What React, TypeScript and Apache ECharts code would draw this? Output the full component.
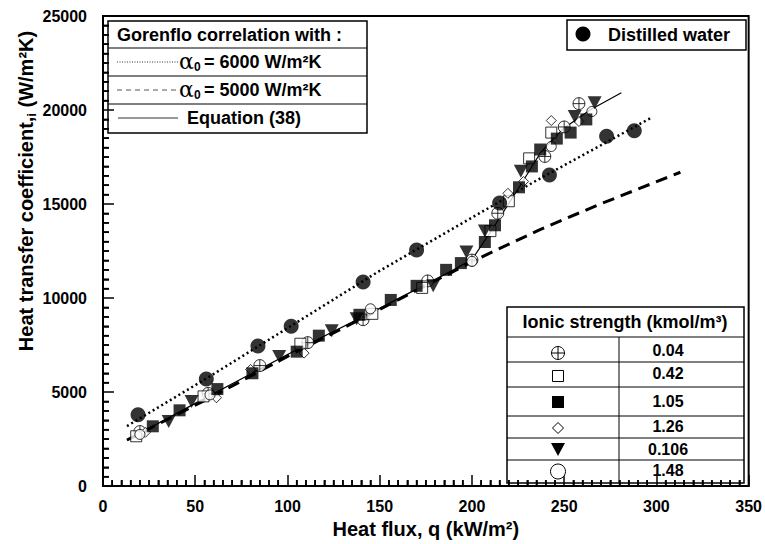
import React, { useEffect, useRef } from 'react';
import * as echarts from 'echarts';

const FONT = 'Liberation Sans, Arial, sans-serif';

// Distilled water
const distilledQ = [19, 56, 84, 102, 141, 170, 215, 242, 273, 288];
const distilledH = [3800, 5700, 7450, 8500, 10850, 12550, 15050, 16550, 18600, 18900];

// Gorenflo correlation alpha0 = 6000
const g6000Q = [13, 56, 100, 149, 234, 297];
const g6000H = [3190, 5720, 8400, 11390, 16200, 19580];

// Gorenflo correlation alpha0 = 5000
const g5000Q = [13, 60, 100, 150, 203, 236, 268, 313];
const g5000H = [2450, 4800, 6900, 9400, 12080, 13600, 14940, 16690];

// Equation (38)
const eq38Q = [13, 50, 100, 150, 190, 200, 210, 225, 237, 243, 250, 264, 281];
const eq38H = [2440, 4400, 7000, 9450, 11500, 12050, 13500, 15800, 17700, 18350, 19050, 20000, 20920];

// Ionic strength 0.04
const q004 = [20, 57, 85, 111, 141, 176, 200, 214, 239.5, 250, 258];
const h004 = [2900, 4930, 6410, 7630, 8850, 10910, 12020, 14510, 17530, 19100, 20340];
// 0.42
const q042 = [18, 54.5, 107, 146, 173, 210, 220, 231, 243];
const h042 = [2650, 4770, 7570, 9160, 10540, 13560, 15150, 17430, 18800];
// 1.05
const q105 = [27, 41.5, 62, 81, 105, 117, 139, 156, 170, 186, 194, 207, 212.5, 225.5, 232.5, 237, 246, 253.5, 262];
const h105 = [3180, 4030, 5160, 6000, 7150, 8000, 9110, 9900, 10650, 11500, 11860, 12980, 13870, 15890, 17000, 17900, 18480, 18800, 19500];
// 1.26
const q126 = [23, 61.5, 80, 109, 219.5, 228, 243, 258];
const h126 = [2860, 4700, 6200, 7070, 15570, 16200, 19440, 19390];
// 0.106
const q0106 = [35.6, 48, 95.5, 124, 137.5, 179, 197, 207, 226.5, 255.7, 266.5];
const h0106 = [3440, 4500, 6890, 8260, 8900, 10650, 12450, 13560, 16740, 19650, 20390];
// 1.48
const q148 = [20, 58, 145, 200, 243, 265];
const h148 = [2750, 4850, 9430, 11950, 18060, 19920];

const ionicLabels = ['0.04', '0.42', '1.05', '1.26', '0.106', '1.48'];

// axis scale
const X_MIN = 0, X_MAX = 350, X_STEP = 50, X_MINOR = 5;
const Y_MIN = 0, Y_MAX = 25000, Y_STEP = 5000, Y_MINOR = 500;

const xMinorTicks: number[] = [];
for (let v = X_MIN + X_MINOR; v < X_MAX; v += X_MINOR) if (v % X_STEP !== 0) xMinorTicks.push(v);
const yMinorTicks: number[] = [];
for (let v = Y_MIN + Y_MINOR; v < Y_MAX; v += Y_MINOR) if (v % Y_STEP !== 0) yMinorTicks.push(v);

const zip = (a: number[], b: number[]) => a.map((v, i) => [v, b[i]]);

const PLUS_CIRCLE = 'path://M10,0 A10,10 0 1,1 10,20 A10,10 0 1,1 10,0 Z M0,10 L20,10 M10,0 L10,20';

export default function App() {
  const ref = useRef<HTMLDivElement>(null);
  useEffect(() => {
    const chart = echarts.init(ref.current!, null, { renderer: 'svg' });
    const open = { color: '#fff', borderColor: '#000', borderWidth: 1 };
    const filled = { color: '#000' };

    const txt = (x: number, y: number, text: string, size: number, extra: any = {}) => ({
      type: 'text', x, y, z: 100,
      style: {
        text, fontSize: size, fontWeight: 'bold', fontFamily: FONT, fill: '#000',
        align: 'left', verticalAlign: 'middle', ...extra,
      },
    });
    const ln = (x1: number, y1: number, x2: number, y2: number, extra: any = {}) => ({
      type: 'line', z: 100, shape: { x1, y1, x2, y2 },
      style: { stroke: '#000', lineWidth: 1, ...extra },
    });

    const rowYs = [350, 373, 401, 426, 449, 470];
    const graphic: any[] = [
      // Gorenflo legend box
      { type: 'rect', z: 100, shape: { x: 108, y: 21, width: 259, height: 112 }, style: { fill: 'none', stroke: '#000', lineWidth: 1.5 } },
      ln(108, 48, 367, 48), ln(108, 76, 367, 76), ln(108, 104, 367, 104),
      txt(117, 35, 'Gorenflo correlation with :', 18),
      ln(117, 62, 178, 62, { lineDash: [1, 1.5], stroke: '#333' }),
      { type: 'text', x: 179, y: 61, z: 100, style: { text: 'α', fontSize: 22, fontFamily: 'DejaVu Serif, serif', fill: '#000', align: 'left', verticalAlign: 'middle' } },
      txt(194, 67, '0', 12),
      txt(204, 62, '= 6000 W/m²K', 18),
      ln(117, 90, 178, 90, { lineDash: [5, 4], stroke: '#555' }),
      { type: 'text', x: 179, y: 89, z: 100, style: { text: 'α', fontSize: 22, fontFamily: 'DejaVu Serif, serif', fill: '#000', align: 'left', verticalAlign: 'middle' } },
      txt(194, 95, '0', 12),
      txt(204, 90, '= 5000 W/m²K', 18),
      ln(118, 118, 178, 118, { stroke: '#333' }),
      txt(187, 118, 'Equation (38)', 18),

      // Distilled water box
      { type: 'rect', z: 100, shape: { x: 567, y: 20, width: 179, height: 30 }, style: { fill: 'none', stroke: '#000', lineWidth: 1.5 } },
      { type: 'circle', z: 100, shape: { cx: 583, cy: 34, r: 7.5 }, style: { fill: '#000' } },
      txt(608, 35, 'Distilled water', 18),

      // Ionic strength table
      { type: 'rect', z: 100, shape: { x: 507, y: 307, width: 237, height: 176 }, style: { fill: 'none', stroke: '#000', lineWidth: 1.5 } },
      ln(507, 337, 744, 337), ln(507, 362, 744, 362), ln(507, 387, 744, 387),
      ln(507, 416, 744, 416), ln(507, 438, 744, 438), ln(507, 460, 744, 460),
      ln(619, 337, 619, 483),
      txt(625, 322, 'Ionic strength (kmol/m³)', 18, { align: 'center' }),
      // symbols
      { type: 'circle', z: 100, shape: { cx: 558, cy: 353, r: 6.5 }, style: { fill: '#fff', stroke: '#000', lineWidth: 1 } },
      ln(551.5, 353, 564.5, 353), ln(558, 346.5, 558, 359.5),
      { type: 'rect', z: 100, shape: { x: 552.5, y: 370.5, width: 11, height: 11 }, style: { fill: '#fff', stroke: '#000', lineWidth: 1 } },
      { type: 'rect', z: 100, shape: { x: 552, y: 396, width: 12, height: 12 }, style: { fill: '#000' } },
      { type: 'polygon', z: 100, shape: { points: [[558, 422.5], [563.5, 428], [558, 433.5], [552.5, 428]] }, style: { fill: '#fff', stroke: '#000', lineWidth: 1 } },
      { type: 'polygon', z: 100, shape: { points: [[551, 443], [565, 443], [558, 456]] }, style: { fill: '#000' } },
      { type: 'circle', z: 100, shape: { cx: 558, cy: 471.5, r: 7.5 }, style: { fill: '#fff', stroke: '#000', lineWidth: 1 } },
      ...ionicLabels.map((l, i) => txt(668, rowYs[i], l, 16, { align: 'center' })),

      // Y axis title
      {
        type: 'text', x: 26, y: 191, rotation: Math.PI / 2, z: 100,
        style: {
          text: '{a|Heat transfer coefficient,}{s|i}{a| (W/m²K)}',
          align: 'center', verticalAlign: 'middle', fill: '#000',
          rich: {
            a: { fontSize: 20, fontWeight: 'bold', fontFamily: FONT, lineHeight: 24, verticalAlign: 'middle', fill: '#000' },
            s: { fontSize: 13, fontWeight: 'bold', fontFamily: FONT, lineHeight: 12, verticalAlign: 'bottom', fill: '#000' },
          },
        },
      },
    ];

    const scatter = (name: string, data: number[][], symbol: string, size: any, itemStyle: any, extra: any = {}) => ({
      name, type: 'scatter', data, symbol, symbolSize: size, itemStyle, z: 3, ...extra,
    });

    const tickSeries = (data: number[][], dx: number, dy: number) => ({
      type: 'custom', silent: true, clip: false, z: 6,
      data,
      renderItem: (params: any, api: any) => {
        const p = api.coord([api.value(0), api.value(1)]);
        return {
          type: 'line',
          shape: { x1: p[0], y1: p[1], x2: p[0] + dx, y2: p[1] + dy },
          style: { stroke: '#000', lineWidth: 1.6 },
        };
      },
    });

    const tickStyle = { color: '#000', width: 1.5 };
    const minorStyle = { show: true, splitNumber: 10, length: 6, lineStyle: { color: '#000', width: 1.5 } };
    const option: any = {
      animation: false,
      backgroundColor: '#fff',
      grid: { left: 103, right: 15, top: 16, bottom: 56, show: true, borderColor: '#000', borderWidth: 2, backgroundColor: 'transparent' },
      xAxis: {
        type: 'value', min: X_MIN, max: X_MAX, interval: X_STEP,
        name: 'Heat flux, q (kW/m²)', nameLocation: 'middle', nameGap: 32,
        nameTextStyle: { fontSize: 20, fontWeight: 'bold', fontFamily: FONT, color: '#000' },
        axisLine: { lineStyle: { color: '#000', width: 2 } },
        axisTick: { inside: true, length: 11, lineStyle: tickStyle },
        minorTick: minorStyle,
        splitLine: { show: false },
        axisLabel: { fontSize: 16, fontWeight: 'bold', fontFamily: FONT, color: '#000', margin: 12 },
      },
      yAxis: {
        type: 'value', min: Y_MIN, max: Y_MAX, interval: Y_STEP,
        axisLine: { show: true, lineStyle: { color: '#000', width: 2 } },
        axisTick: { show: true, inside: true, length: 11, lineStyle: tickStyle },
        minorTick: minorStyle,
        splitLine: { show: false },
        axisLabel: { fontSize: 16, fontWeight: 'bold', fontFamily: FONT, color: '#000', margin: 16, formatter: (v: number) => String(v) },
      },
      graphic,
      series: [
        tickSeries(xMinorTicks.map((v) => [v, Y_MIN]), 0, -6),
        tickSeries(yMinorTicks.map((v) => [X_MIN, v]), 6, 0),
        { name: 'α0 = 6000', type: 'line', data: zip(g6000Q, g6000H), showSymbol: false, symbol: 'none', z: 2,
          lineStyle: { color: '#000', width: 2.5, type: [2, 3] } },
        { name: 'α0 = 5000', type: 'line', data: zip(g5000Q, g5000H), showSymbol: false, symbol: 'none', z: 2,
          lineStyle: { color: '#000', width: 3, type: [12, 7] } },
        { name: 'Equation (38)', type: 'line', data: zip(eq38Q, eq38H), showSymbol: false, symbol: 'none', z: 2,
          lineStyle: { color: '#000', width: 1.2, type: 'solid' } },
        scatter('0.04', zip(q004, h004), PLUS_CIRCLE, 12, open),
        scatter('0.42', zip(q042, h042), 'rect', 11, open),
        scatter('1.26', zip(q126, h126), 'diamond', 10, open),
        scatter('1.48', zip(q148, h148), 'circle', 10, open),
        scatter('1.05', zip(q105, h105), 'rect', 12, filled),
        scatter('0.106', zip(q0106, h0106), 'triangle', [14, 13], filled, { symbolRotate: 180 }),
        scatter('Distilled water', zip(distilledQ, distilledH), 'circle', 15, filled),
      ],
    };
    chart.setOption(option);
    return () => chart.dispose();
  }, []);
  return <div ref={ref} style={{ position: 'absolute', left: 0, top: 0, width: 765, height: 544 }} />;
}
